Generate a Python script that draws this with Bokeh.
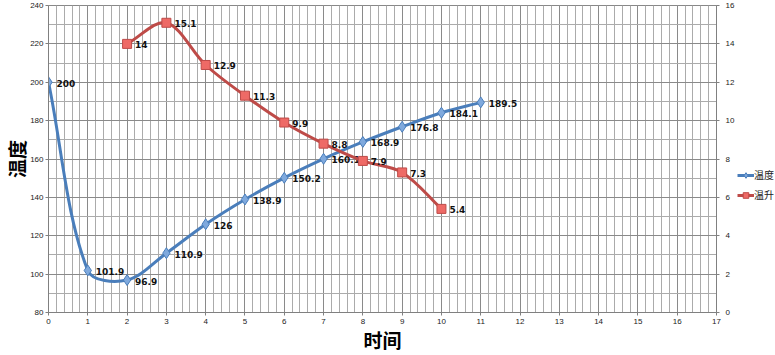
import math
from bokeh.plotting import figure
from bokeh.layouts import row
from bokeh.models import (Range1d, LinearAxis, SingleIntervalTicker, Legend,
                          LegendItem, ColumnDataSource)
from bokeh.core.properties import value
from bokeh.embed import file_html
from bokeh.resources import INLINE

# ---- data ----
temp_time = [0, 1, 2, 3, 4, 5, 6, 7, 8, 9, 10, 11]
temp_vals = [200, 101.9, 96.9, 110.9, 126, 138.9, 150.2, 160.1, 168.9, 176.8, 184.1, 189.5]
temp_text = ["200", "101.9", "96.9", "110.9", "126", "138.9", "150.2", "160.1", "168.9", "176.8", "184.1", "189.5"]

rise_time = [2, 3, 4, 5, 6, 7, 8, 9, 10]
rise_vals = [14, 15.1, 12.9, 11.3, 9.9, 8.8, 7.9, 7.3, 5.4]
rise_text = ["14", "15.1", "12.9", "11.3", "9.9", "8.8", "7.9", "7.3", "5.4"]

series_names = ["温度", "温升"]
x_title = "时间"
y_title = "温度"

W, H = 737, 355
LW = 775 - W
BL, BR, BT, BB = 48, 21, 5, 42
XMIN, XMAX = 0, 17
YMIN, YMAX = 80, 240
RMIN, RMAX = 0, 16
px_x = (W - BL - BR) / (XMAX - XMIN)

BLUE, BLUE_M = "#4a7ebb", "#7fa9dd"
RED, RED_M = "#be4b48", "#ee6a66"


def smooth(xs, ys, sx, sy):
    """Excel-like smoothed line as cubic bezier segments."""
    P = list(zip(xs, ys))
    n = len(P)

    def d(a, b):
        return math.hypot((a[0] - b[0]) * sx, (a[1] - b[1]) * sy)

    out = {k: [] for k in ["x0", "y0", "x1", "y1", "cx0", "cy0", "cx1", "cy1"]}
    for i in range(n - 1):
        p0 = P[i - 1] if i > 0 else P[i]
        p1, p2 = P[i], P[i + 1]
        p3 = P[i + 2] if i + 2 < n else P[i + 1]
        d01, d12, d23 = d(p0, p1), d(p1, p2), d(p2, p3)
        f1 = d12 / (d01 + d12) / 3.0
        f2 = d12 / (d12 + d23) / 3.0
        out["x0"].append(p1[0]); out["y0"].append(p1[1])
        out["x1"].append(p2[0]); out["y1"].append(p2[1])
        out["cx0"].append(p1[0] + (p2[0] - p0[0]) * f1)
        out["cy0"].append(p1[1] + (p2[1] - p0[1]) * f1)
        out["cx1"].append(p2[0] - (p3[0] - p1[0]) * f2)
        out["cy1"].append(p2[1] - (p3[1] - p1[1]) * f2)
    return out


frame_h = H - BT - BB
p = figure(width=W, height=H, output_backend="svg", toolbar_location=None,
           x_range=Range1d(XMIN, XMAX), y_range=Range1d(YMIN, YMAX),
           min_border_left=BL, min_border_right=BR, min_border_top=BT, min_border_bottom=BB,
           background_fill_color="white", border_fill_color="white")
p.extra_y_ranges = {"r": Range1d(RMIN, RMAX)}
p.outline_line_color = "#888888"

# axes
xt = SingleIntervalTicker(interval=1, num_minor_ticks=5)
yt = SingleIntervalTicker(interval=20, num_minor_ticks=2)
rt = SingleIntervalTicker(interval=2, num_minor_ticks=2)
xa = p.below[0]
la = p.left[0]
xa.ticker = xt
la.ticker = yt
ra = LinearAxis(y_range_name="r", ticker=rt)
p.add_layout(ra, "right")
for ax in [xa, la, ra]:
    ax.axis_line_color = "#808080"
    ax.major_tick_line_color = "#808080"
    ax.major_tick_out = 3
    ax.major_tick_in = 0
    ax.minor_tick_out = 0
    ax.minor_tick_in = 0
    ax.major_label_text_font = "Liberation Sans"
    ax.major_label_text_font_size = "8px"
    ax.major_label_text_color = "#222222"
    ax.major_label_standoff = 2
ra.major_label_standoff = 6
xa.major_label_standoff = 3

la.axis_label = y_title
la.axis_label_standoff = -3
xa.axis_label = x_title
xa.axis_label_standoff = -1
for ax in [xa, la]:
    ax.axis_label_text_font = "Noto Sans CJK SC"
    ax.axis_label_text_font_style = "bold"
    ax.axis_label_text_font_size = "19px"
    ax.axis_label_text_color = "black"

# grid
p.xgrid.ticker = xt
p.ygrid.ticker = yt
for g in [p.xgrid[0], p.ygrid[0]]:
    g.grid_line_color = "#8a8a8a"
    g.grid_line_width = 1
    g.minor_grid_line_color = "#ababab"
    g.minor_grid_line_width = 1

# series 1 (left axis)
s1 = ColumnDataSource(smooth(temp_time, temp_vals, px_x, frame_h / (YMAX - YMIN)))
p.bezier(x0="x0", y0="y0", x1="x1", y1="y1", cx0="cx0", cy0="cy0", cx1="cx1", cy1="cy1",
         source=s1, line_color=BLUE, line_width=3)
src1 = ColumnDataSource(dict(x=temp_time, y=temp_vals, t=temp_text))
p.scatter("x", "y", source=src1, marker="diamond", size=11,
          fill_color=BLUE_M, line_color=BLUE, line_width=1)
p.text("x", "y", text="t", source=src1, x_offset=8, y_offset=1,
       text_font=value("DejaVu Sans"), text_font_style="bold", text_font_size="9px",
       text_color="#111111", text_baseline="middle", text_align="left")

# series 2 (right axis)
s2 = ColumnDataSource(smooth(rise_time, rise_vals, px_x, frame_h / (RMAX - RMIN)))
p.bezier(x0="x0", y0="y0", x1="x1", y1="y1", cx0="cx0", cy0="cy0", cx1="cx1", cy1="cy1",
         source=s2, line_color=RED, line_width=3, y_range_name="r")
src2 = ColumnDataSource(dict(x=rise_time, y=rise_vals, t=rise_text))
p.scatter("x", "y", source=src2, marker="square", size=9, y_range_name="r",
          fill_color=RED_M, line_color=RED, line_width=1)
p.text("x", "y", text="t", source=src2, x_offset=8, y_offset=1, y_range_name="r",
       text_font=value("DejaVu Sans"), text_font_style="bold", text_font_size="9px",
       text_color="#111111", text_baseline="middle", text_align="left")

# legend in a narrow companion figure to the right
q = figure(width=LW, height=H, output_backend="svg", toolbar_location=None,
           x_range=Range1d(0, 1), y_range=Range1d(0, 1),
           min_border_left=0, min_border_right=0, min_border_top=0, min_border_bottom=0,
           background_fill_color="white", border_fill_color="white")
q.axis.visible = False
q.grid.visible = False
q.outline_line_color = None
l1 = q.line([-5, -4], [-5, -4], line_color=BLUE, line_width=3)
k1 = q.scatter([-5], [-5], marker="diamond", size=9, fill_color=BLUE_M, line_color=BLUE)
l2 = q.line([-5, -4], [-5, -4], line_color=RED, line_width=3)
k2 = q.scatter([-5], [-5], marker="square", size=8, fill_color=RED_M, line_color=RED)
legend = Legend(items=[LegendItem(label=series_names[0], renderers=[l1, k1]),
                       LegendItem(label=series_names[1], renderers=[l2, k2])],
                location=(0, 110), orientation="vertical",
                background_fill_alpha=0, border_line_alpha=0,
                glyph_width=17, glyph_height=14, label_standoff=0, padding=0, spacing=5,
                label_text_font="Noto Sans CJK SC", label_text_font_size="10px",
                label_text_color="#222222", margin=0)
q.add_layout(legend, "center")

layout = row(p, q, spacing=0)
open("out.html", "w").write(file_html(layout, INLINE))
